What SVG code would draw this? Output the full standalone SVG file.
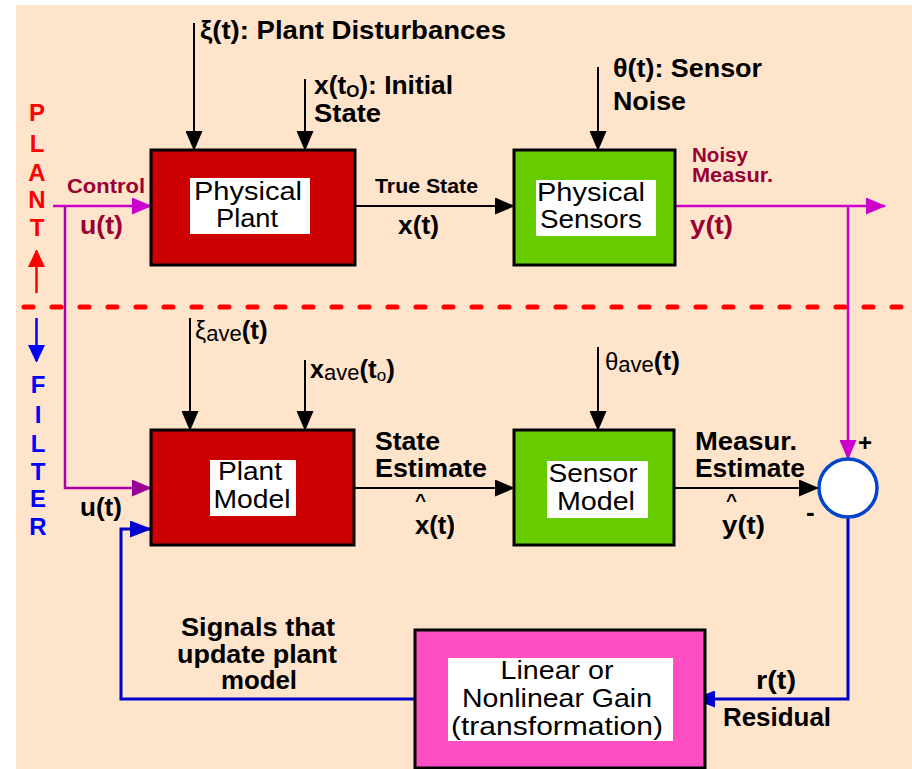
<svg xmlns="http://www.w3.org/2000/svg" width="912" height="769" viewBox="0 0 912 769">
<style>
text{font-family:"Liberation Sans",Arial,sans-serif;}
.b{font-weight:bold;}
.lbl{font-size:25px;font-weight:bold;fill:#000;}
.sm{font-size:20px;font-weight:bold;}
.mar{fill:#990033;}
.box{stroke:#000;stroke-width:3;}
.inner{font-size:26px;fill:#000;text-anchor:middle;}
.blk{stroke:#000;stroke-width:2;fill:none;}
.mag{stroke:#CC00CC;stroke-width:2.5;fill:none;}
.blu{stroke:#0000CC;stroke-width:3;fill:none;}
.ltr{font-size:24px;font-weight:bold;text-anchor:middle;}
.v{font-size:26px;font-weight:bold;}
</style>
<defs>
<marker id="ak" viewBox="0 0 20 17" refX="19" refY="8.5" markerWidth="20" markerHeight="17" markerUnits="userSpaceOnUse" orient="auto"><path d="M0,0 L20,8.5 L0,17 z" fill="#000"/></marker>
<marker id="am" viewBox="0 0 20 17" refX="19" refY="8.5" markerWidth="20" markerHeight="17" markerUnits="userSpaceOnUse" orient="auto"><path d="M0,0 L20,8.5 L0,17 z" fill="#CC00CC"/></marker>
<marker id="ap" viewBox="0 0 20 17" refX="19" refY="8.5" markerWidth="20" markerHeight="17" markerUnits="userSpaceOnUse" orient="auto"><path d="M0,0 L20,8.5 L0,17 z" fill="#990099"/></marker>
<marker id="ab" viewBox="0 0 22 17" refX="21" refY="8.5" markerWidth="22" markerHeight="17" markerUnits="userSpaceOnUse" orient="auto"><path d="M0,0 L22,8.5 L0,17 z" fill="#0000CC"/></marker>
<marker id="ar" viewBox="0 0 17 18" refX="16" refY="8.5" markerWidth="17" markerHeight="18" markerUnits="userSpaceOnUse" orient="auto"><path d="M0,0 L18,8.5 L0,17 z" fill="#FF0000"/></marker>
<marker id="ab2" viewBox="0 0 17 18" refX="16" refY="8.5" markerWidth="17" markerHeight="18" markerUnits="userSpaceOnUse" orient="auto"><path d="M0,0 L18,8.5 L0,17 z" fill="#0000FF"/></marker>
</defs>
<rect x="0" y="0" width="912" height="769" fill="#FFFFFF"/>
<rect x="16" y="5" width="896" height="764" fill="#FFE4CC"/>

<g id="divider">
<line x1="24" y1="307" x2="906" y2="307" stroke="#FF0000" stroke-width="5" stroke-dasharray="9 19" stroke-linecap="round"/>
<text class="ltr" fill="#FF0000"><tspan x="37" y="121">P</tspan><tspan x="37" y="152">L</tspan><tspan x="37" y="181">A</tspan><tspan x="37" y="208">N</tspan><tspan x="37" y="236">T</tspan></text>
<line x1="36.5" y1="293" x2="36.5" y2="251" stroke="#FF0000" stroke-width="2.5" marker-end="url(#ar)"/>
<line x1="36.5" y1="318" x2="36.5" y2="361" stroke="#0000FF" stroke-width="2.5" marker-end="url(#ab2)"/>
<text class="ltr" fill="#0000FF"><tspan x="38" y="393">F</tspan><tspan x="38" y="423">I</tspan><tspan x="38" y="452">L</tspan><tspan x="38" y="480">T</tspan><tspan x="38" y="507">E</tspan><tspan x="38" y="535">R</tspan></text>
</g>

<g id="connectors">
<line class="blk" x1="194" y1="23" x2="194" y2="150" marker-end="url(#ak)"/>
<line class="blk" x1="305" y1="79" x2="305" y2="150" marker-end="url(#ak)"/>
<line class="blk" x1="598" y1="67" x2="598" y2="150" marker-end="url(#ak)"/>
<line class="mag" x1="53" y1="206" x2="151" y2="206" marker-end="url(#am)"/>
<polyline fill="none" stroke="#AA00AA" stroke-width="2.5" points="65,206 65,488 151,488" marker-end="url(#ap)"/>
<line class="blk" x1="347" y1="206" x2="514" y2="206" marker-end="url(#ak)"/>
<line class="mag" x1="667" y1="206" x2="885" y2="206" marker-end="url(#am)"/>
<line class="mag" x1="848" y1="206" x2="848" y2="459" marker-end="url(#am)"/>
<line class="blk" x1="190" y1="318" x2="190" y2="430" marker-end="url(#ak)"/>
<line class="blk" x1="305" y1="360" x2="305" y2="430" marker-end="url(#ak)"/>
<line class="blk" x1="598" y1="347" x2="598" y2="430" marker-end="url(#ak)"/>
<line class="blk" x1="343" y1="488" x2="514" y2="488" marker-end="url(#ak)"/>
<line class="blk" x1="664" y1="488" x2="818" y2="488" marker-end="url(#ak)"/>
<polyline class="blu" points="848,518 848,699 694,699" marker-end="url(#ab)"/>
<polyline class="blu" points="426,699 121,699 121,529 151,529" marker-end="url(#ab)"/>
</g>

<g id="physical-plant">
<rect class="box" x="151" y="150" width="204" height="115" fill="#CC0000"/>
<rect x="190" y="178" width="120" height="56" fill="#FFFFFF"/>
<text class="inner"><tspan x="248" y="200" textLength="108" lengthAdjust="spacingAndGlyphs">Physical</tspan><tspan x="247" y="227" textLength="62" lengthAdjust="spacingAndGlyphs">Plant</tspan></text>
</g>
<g id="physical-sensors">
<rect class="box" x="514" y="150" width="161" height="115" fill="#66CC00"/>
<rect x="536" y="180" width="120" height="56" fill="#FFFFFF"/>
<text class="inner"><tspan x="591" y="201" textLength="108" lengthAdjust="spacingAndGlyphs">Physical</tspan><tspan x="591" y="228" textLength="102" lengthAdjust="spacingAndGlyphs">Sensors</tspan></text>
</g>
<g id="plant-model">
<rect class="box" x="151" y="430" width="203" height="115" fill="#CC0000"/>
<rect x="210" y="460" width="86" height="56" fill="#FFFFFF"/>
<text class="inner"><tspan x="250" y="480" textLength="64" lengthAdjust="spacingAndGlyphs">Plant</tspan><tspan x="252" y="508" textLength="77" lengthAdjust="spacingAndGlyphs">Model</tspan></text>
</g>
<g id="sensor-model">
<rect class="box" x="514" y="430" width="160" height="115" fill="#66CC00"/>
<rect x="547" y="461" width="101" height="57" fill="#FFFFFF"/>
<text class="inner"><tspan x="593" y="482" textLength="89" lengthAdjust="spacingAndGlyphs">Sensor</tspan><tspan x="596" y="510" textLength="78" lengthAdjust="spacingAndGlyphs">Model</tspan></text>
</g>
<g id="summer">
<circle cx="848" cy="488" r="29" fill="#FFFFFF" stroke="#0044CC" stroke-width="3.5"/>
<text class="b" font-size="24" x="858" y="451">+</text>
<text class="b" font-size="26" x="806" y="521">-</text>
</g>
<g id="gain">
<rect class="box" x="415" y="630" width="290" height="138" fill="#FF4DC4"/>
<rect x="448" y="658" width="225" height="83" fill="#FFFFFF"/>
<text class="inner"><tspan x="557" y="679" textLength="113" lengthAdjust="spacingAndGlyphs">Linear or</tspan><tspan x="557" y="707" textLength="190" lengthAdjust="spacingAndGlyphs">Nonlinear Gain</tspan><tspan x="557" y="735" textLength="212" lengthAdjust="spacingAndGlyphs">(transformation)</tspan></text>
</g>

<g id="labels">
<text class="lbl" x="200" y="39" textLength="306" lengthAdjust="spacingAndGlyphs">ξ(t): Plant Disturbances</text>
<text class="lbl" x="314" y="94" textLength="139" lengthAdjust="spacingAndGlyphs">x(t<tspan font-size="16" dy="3">O</tspan><tspan dy="-3">): Initial</tspan></text>
<text class="lbl" x="314" y="122" textLength="67" lengthAdjust="spacingAndGlyphs">State</text>
<text class="lbl" x="613" y="77" textLength="149" lengthAdjust="spacingAndGlyphs">θ(t): Sensor</text>
<text class="lbl" x="613" y="110" textLength="73" lengthAdjust="spacingAndGlyphs">Noise</text>
<text class="sm mar" x="67" y="193" textLength="78" lengthAdjust="spacingAndGlyphs">Control</text>
<text class="v mar" x="80" y="234" textLength="43" lengthAdjust="spacingAndGlyphs">u(t)</text>
<text class="sm" x="375" y="193" textLength="103" lengthAdjust="spacingAndGlyphs">True State</text>
<text class="v" x="398" y="234" textLength="41" lengthAdjust="spacingAndGlyphs">x(t)</text>
<text class="sm mar" x="692" y="162" textLength="56" lengthAdjust="spacingAndGlyphs">Noisy</text>
<text class="sm mar" x="692" y="182" textLength="81" lengthAdjust="spacingAndGlyphs">Measur.</text>
<text class="v mar" x="690" y="234" textLength="43" lengthAdjust="spacingAndGlyphs">y(t)</text>
<text font-size="22" x="195" y="339"><tspan font-size="25">ξ</tspan><tspan dy="2">ave</tspan><tspan class="b" font-size="26" dy="-2">(t)</tspan></text>
<text font-size="22" x="310" y="378"><tspan class="b" font-size="25">x</tspan><tspan dy="2">ave</tspan><tspan class="b" font-size="26" dy="-2">(t</tspan><tspan font-size="17" dy="3">o</tspan><tspan class="b" font-size="26" dy="-3">)</tspan></text>
<text font-size="22" x="605" y="370"><tspan font-size="24">θ</tspan><tspan dy="2">ave</tspan><tspan class="b" font-size="26" dy="-2">(t)</tspan></text>
<text class="lbl" x="375" y="450" textLength="65" lengthAdjust="spacingAndGlyphs">State</text>
<text class="lbl" x="375" y="477" textLength="112" lengthAdjust="spacingAndGlyphs">Estimate</text>
<text class="b" font-size="19" x="415" y="507">^</text>
<text class="v" x="415" y="534" textLength="40" lengthAdjust="spacingAndGlyphs">x(t)</text>
<text class="lbl" x="695" y="450" textLength="102" lengthAdjust="spacingAndGlyphs">Measur.</text>
<text class="lbl" x="695" y="477" textLength="110" lengthAdjust="spacingAndGlyphs">Estimate</text>
<text class="b" font-size="19" x="726" y="507">^</text>
<text class="v" x="722" y="534" textLength="43" lengthAdjust="spacingAndGlyphs">y(t)</text>
<text class="v" x="80" y="516" textLength="42" lengthAdjust="spacingAndGlyphs">u(t)</text>
<text class="lbl" text-anchor="middle" x="258" y="636" textLength="154" lengthAdjust="spacingAndGlyphs">Signals that</text>
<text class="lbl" text-anchor="middle" x="257" y="663" textLength="160" lengthAdjust="spacingAndGlyphs">update plant</text>
<text class="lbl" text-anchor="middle" x="259" y="689" textLength="76" lengthAdjust="spacingAndGlyphs">model</text>
<text class="lbl" x="756" y="689" textLength="40" lengthAdjust="spacingAndGlyphs">r(t)</text>
<text class="lbl" x="723" y="726" textLength="108" lengthAdjust="spacingAndGlyphs">Residual</text>
</g>
</svg>
